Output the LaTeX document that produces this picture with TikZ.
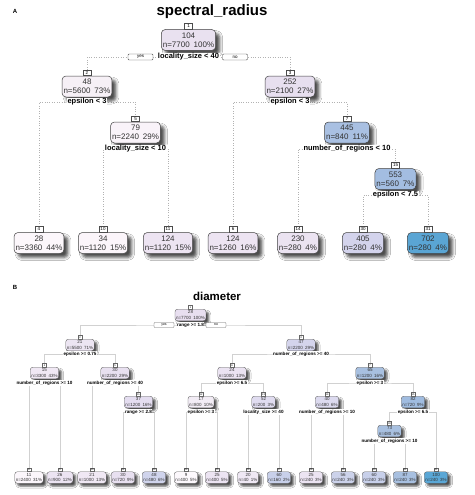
\documentclass[tikz,border=0pt]{standalone}
\usepackage{fontspec}
\setmainfont{Liberation Sans}
\usetikzlibrary{backgrounds,shadows.blur}

% panel A colours
\definecolor{cA104}{HTML}{E9E1F0}
\definecolor{cA48}{HTML}{F6F0F6}
\definecolor{cA252}{HTML}{E7DFEF}
\definecolor{cA79}{HTML}{F9F3F9}
\definecolor{cA445}{HTML}{A9C0E2}
\definecolor{cA553}{HTML}{A3BDE1}
\definecolor{cA28}{HTML}{FCF7FB}
\definecolor{cA34}{HTML}{FBF5FA}
\definecolor{cA124}{HTML}{EDE4F2}
\definecolor{cA230}{HTML}{EBE3F1}
\definecolor{cA405}{HTML}{D3D3EC}
\definecolor{cA702}{HTML}{5AA5D4}
% panel B colours
\definecolor{cB28}{HTML}{E8DFF0}
\definecolor{cB21}{HTML}{ECE5F2}
\definecolor{cB47}{HTML}{D4D4EC}
\definecolor{cB15}{HTML}{F0E8F4}
\definecolor{cB30}{HTML}{E8E0F0}
\definecolor{cB37}{HTML}{E4DDF0}
\definecolor{cB24}{HTML}{EBE3F2}
\definecolor{cB65}{HTML}{A8C0E0}
\definecolor{cB17}{HTML}{F2ECF5}
\definecolor{cB52}{HTML}{E0DCF0}
\definecolor{cB40}{HTML}{DCDAEF}
\definecolor{cB82}{HTML}{A0BCE0}
\definecolor{cB73}{HTML}{A8C0E0}
\definecolor{cBl11}{HTML}{FBF6FB}
\definecolor{cBl26}{HTML}{ECE4F2}
\definecolor{cBl21}{HTML}{F0E8F4}
\definecolor{cBl30}{HTML}{E8E0F0}
\definecolor{cBl48}{HTML}{D0D4EC}
\definecolor{cBl9}{HTML}{FCF8FC}
\definecolor{cBl25}{HTML}{ECE4F2}
\definecolor{cBl20}{HTML}{EFE8F4}
\definecolor{cBl60}{HTML}{C8D0EA}
\definecolor{cBl56}{HTML}{CCD2EA}
\definecolor{cBl87}{HTML}{A8C0E0}
\definecolor{cBl100}{HTML}{5AA7D6}

\newcommand{\tnode}[7]{%
  \node[#1box, fill=#7] (#2) at (#3,#4) {#6};
  \node[#1lab, anchor=south] (#2l) at (#2.north) {#5};}

\begin{document}
\begin{tikzpicture}[x=1pt,y=-1pt,
  Abox/.style={draw=black!75, line width=0.5pt, rounded corners=4pt, align=center,
    font=\fontsize{8}{9.3}\selectfont, text=black!80, inner sep=1.5pt, minimum height=21pt,
    blur shadow={shadow xshift=4pt, shadow yshift=-4pt, shadow blur radius=3pt, shadow opacity=70}},
  Alab/.style={draw=black!70, line width=0.4pt, fill=white, font=\fontsize{4.5}{5}\selectfont,
    inner sep=0.5pt, minimum width=8pt, minimum height=5.5pt},
  Asplit/.style={font=\fontsize{7.5}{9}\selectfont\bfseries, fill=white, inner sep=0.8pt},
  Ayn/.style={draw=black!70, line width=0.4pt, fill=white, rounded corners=1pt,
    font=\fontsize{4.5}{5}\selectfont, minimum width=25pt, minimum height=6pt, inner sep=0pt},
  Aline/.style={draw=black!30, line width=0.45pt, dotted},
  Bbox/.style={draw=black!65, line width=0.35pt, rounded corners=2.5pt, align=center,
    font=\fontsize{4.5}{5.2}\selectfont, text=black!80, inner sep=1pt, minimum height=11.5pt,
    blur shadow={shadow xshift=2.8pt, shadow yshift=-2.8pt, shadow blur radius=2pt, shadow opacity=70}},
  Blab/.style={draw=black!60, line width=0.3pt, fill=white, font=\fontsize{2.5}{3}\selectfont,
    inner sep=0.3pt, minimum width=4pt, minimum height=3.5pt},
  Bsplit/.style={font=\fontsize{4.6}{5.5}\selectfont\bfseries, fill=white, inner sep=0.5pt},
  Byn/.style={draw=black!60, line width=0.3pt, fill=white, rounded corners=0.8pt,
    font=\fontsize{3.5}{4}\selectfont, minimum width=20pt, minimum height=5pt, inner sep=0pt},
  Bline/.style={draw=black!18, line width=0.5pt},
]
\useasboundingbox (0,0) rectangle (474,495);

% ===================== Panel A =====================
\node[font=\fontsize{6}{7}\selectfont\bfseries] (labelA) at (15,11) {A};
\node[font=\fontsize{15}{17}\selectfont\bfseries] (titleA) at (212,12) {spectral\_radius};

\tnode{A}{a1}{188.5}{40}{1}{104\\n=7700\enspace100\%}{cA104}
\tnode{A}{a2}{87}{86.5}{2}{48\\n=5600\enspace73\%}{cA48}
\tnode{A}{a3}{290}{86.5}{3}{252\\n=2100\enspace27\%}{cA252}
\tnode{A}{a5}{135.5}{132.5}{5}{79\\n=2240\enspace29\%}{cA79}
\tnode{A}{a7}{347}{132.5}{7}{445\\n=840\enspace11\%}{cA445}
\tnode{A}{a15}{395.5}{179}{15}{553\\n=560\enspace7\%}{cA553}
\tnode{A}{a4}{39}{243}{4}{28\\n=3360\enspace44\%}{cA28}
\tnode{A}{a10}{103}{243}{10}{34\\n=1120\enspace15\%}{cA34}
\tnode{A}{a11}{168}{243}{11}{124\\n=1120\enspace15\%}{cA124}
\tnode{A}{a6}{233}{243}{6}{124\\n=1260\enspace16\%}{cA124}
\tnode{A}{a14}{298}{243}{14}{230\\n=280\enspace4\%}{cA230}
\tnode{A}{a30}{363}{243}{30}{405\\n=280\enspace4\%}{cA405}
\tnode{A}{a31}{428}{243}{31}{702\\n=280\enspace4\%}{cA702}

\node[Asplit] (sa1) at (188.5,57) {locality\_size < 40};
\node[Ayn] (yesA) at (140.5,57) {yes};
\node[Ayn] (noA) at (235,57) {no};
\node[Asplit] (sa2) at (87,102) {epsilon < 3};
\node[Asplit] (sa3) at (290,102) {epsilon < 3};
\node[Asplit] (sa5) at (135.5,149) {locality\_size < 10};
\node[Asplit] (sa7) at (347,149) {number\_of\_regions < 10};
\node[Asplit] (sa15) at (395.5,195) {epsilon < 7.5};

% ===================== Panel B =====================
\node[font=\fontsize{6}{7}\selectfont\bfseries] (labelB) at (15,287) {B};
\node[font=\fontsize{11.5}{13}\selectfont\bfseries] (titleB) at (217,296) {diameter};

\tnode{B}{b1}{190.5}{315}{1}{28\\n=7700\enspace100\%}{cB28}
\tnode{B}{b2}{80}{345}{2}{21\\n=5500\enspace71\%}{cB21}
\tnode{B}{b3}{301}{345}{3}{47\\n=2200\enspace29\%}{cB47}
\tnode{B}{b4}{44.5}{373}{4}{15\\n=3300\enspace43\%}{cB15}
\tnode{B}{b5}{115}{373}{5}{30\\n=2200\enspace29\%}{cB30}
\tnode{B}{b6}{232}{373}{6}{24\\n=1000\enspace13\%}{cB24}
\tnode{B}{b7}{370}{373}{7}{65\\n=1200\enspace16\%}{cB65}
\tnode{B}{b11}{138.5}{402}{11}{37\\n=1200\enspace16\%}{cB37}
\tnode{B}{b12}{201}{402}{12}{17\\n=800\enspace10\%}{cB17}
\tnode{B}{b13}{263.5}{402}{13}{52\\n=200\enspace3\%}{cB52}
\tnode{B}{b14}{327}{402}{14}{40\\n=480\enspace6\%}{cB40}
\tnode{B}{b15}{413}{402}{15}{82\\n=720\enspace9\%}{cB82}
\tnode{B}{b30}{389.5}{431}{30}{73\\n=480\enspace6\%}{cB73}
\tnode{B}{b8}{29}{477.5}{8}{11\\n=2400\enspace31\%}{cBl11}
\tnode{B}{b9}{60}{477.5}{9}{26\\n=900\enspace12\%}{cBl26}
\tnode{B}{b10}{92}{477.5}{10}{21\\n=1000\enspace13\%}{cBl21}
\tnode{B}{b22}{123}{477.5}{22}{30\\n=720\enspace9\%}{cBl30}
\tnode{B}{b23}{154}{477.5}{23}{48\\n=480\enspace6\%}{cBl48}
\tnode{B}{b24}{186}{477.5}{24}{9\\n=400\enspace5\%}{cBl9}
\tnode{B}{b25}{217}{477.5}{25}{25\\n=400\enspace5\%}{cBl25}
\tnode{B}{b26}{248}{477.5}{26}{20\\n=40\enspace1\%}{cBl20}
\tnode{B}{b27}{279}{477.5}{27}{60\\n=160\enspace2\%}{cBl60}
\tnode{B}{b28}{311}{477.5}{28}{25\\n=240\enspace3\%}{cBl25}
\tnode{B}{b29}{343}{477.5}{29}{56\\n=240\enspace3\%}{cBl56}
\tnode{B}{b60}{374}{477.5}{60}{60\\n=240\enspace3\%}{cBl60}
\tnode{B}{b61}{405}{477.5}{61}{87\\n=240\enspace3\%}{cBl87}
\tnode{B}{b31}{436}{477.5}{31}{100\\n=240\enspace3\%}{cBl100}

\node[Bsplit] (sb1) at (190.5,325) {range >= 1.8};
\node[Byn] (yesB) at (164,325) {yes};
\node[Byn] (noB) at (216,325) {no};
\node[Bsplit] (sb2) at (80,354) {epsilon >= 0.75};
\node[Bsplit] (sb3) at (301,354) {number\_of\_regions >= 40};
\node[Bsplit] (sb4) at (44.5,383) {number\_of\_regions >= 10};
\node[Bsplit] (sb5) at (115,383) {number\_of\_regions >= 40};
\node[Bsplit] (sb6) at (232,383) {epsilon >= 6.5};
\node[Bsplit] (sb7) at (370,383) {epsilon >= 3};
\node[Bsplit] (sb11) at (138.5,412) {range >= 2.8};
\node[Bsplit] (sb12) at (201,412) {epsilon >= 3};
\node[Bsplit] (sb13) at (263.5,412) {locality\_size >= 40};
\node[Bsplit] (sb14) at (327,412) {number\_of\_regions >= 10};
\node[Bsplit] (sb15) at (413,412) {epsilon >= 6.5};
\node[Bsplit] (sb30) at (389.5,441) {number\_of\_regions >= 10};

% ===================== connectors =====================
\begin{pgfonlayer}{background}
\fill[white] (0,0) rectangle (474,495);
\draw[Aline] (a2l.north) |- (sa1.center) -| (a3l.north);
\draw[Aline] (a4l.north) |- (sa2.center) -| (a5l.north);
\draw[Aline] (a10l.north) |- (sa5.center) -| (a11l.north);
\draw[Aline] (a6l.north) |- (sa3.center) -| (a7l.north);
\draw[Aline] (a14l.north) |- (sa7.center) -| (a15l.north);
\draw[Aline] (a30l.north) |- (sa15.center) -| (a31l.north);

\draw[Bline] (b2l.north) |- (sb1.center) -| (b3l.north);
\draw[Bline] (b4l.north) |- (sb2.center) -| (b5l.north);
\draw[Bline] (b8l.north) |- (sb4.center) -| (b9l.north);
\draw[Bline] (b10l.north) |- (sb5.center) -| (b11l.north);
\draw[Bline] (b22l.north) |- (sb11.center) -| (b23l.north);
\draw[Bline] (b6l.north) |- (sb3.center) -| (b7l.north);
\draw[Bline] (b12l.north) |- (sb6.center) -| (b13l.north);
\draw[Bline] (b24l.north) |- (sb12.center) -| (b25l.north);
\draw[Bline] (b26l.north) |- (sb13.center) -| (b27l.north);
\draw[Bline] (b14l.north) |- (sb7.center) -| (b15l.north);
\draw[Bline] (b28l.north) |- (sb14.center) -| (b29l.north);
\draw[Bline] (b30l.north) |- (sb15.center) -| (b31l.north);
\draw[Bline] (b60l.north) |- (sb30.center) -| (b61l.north);
\end{pgfonlayer}
\end{tikzpicture}
\end{document}
